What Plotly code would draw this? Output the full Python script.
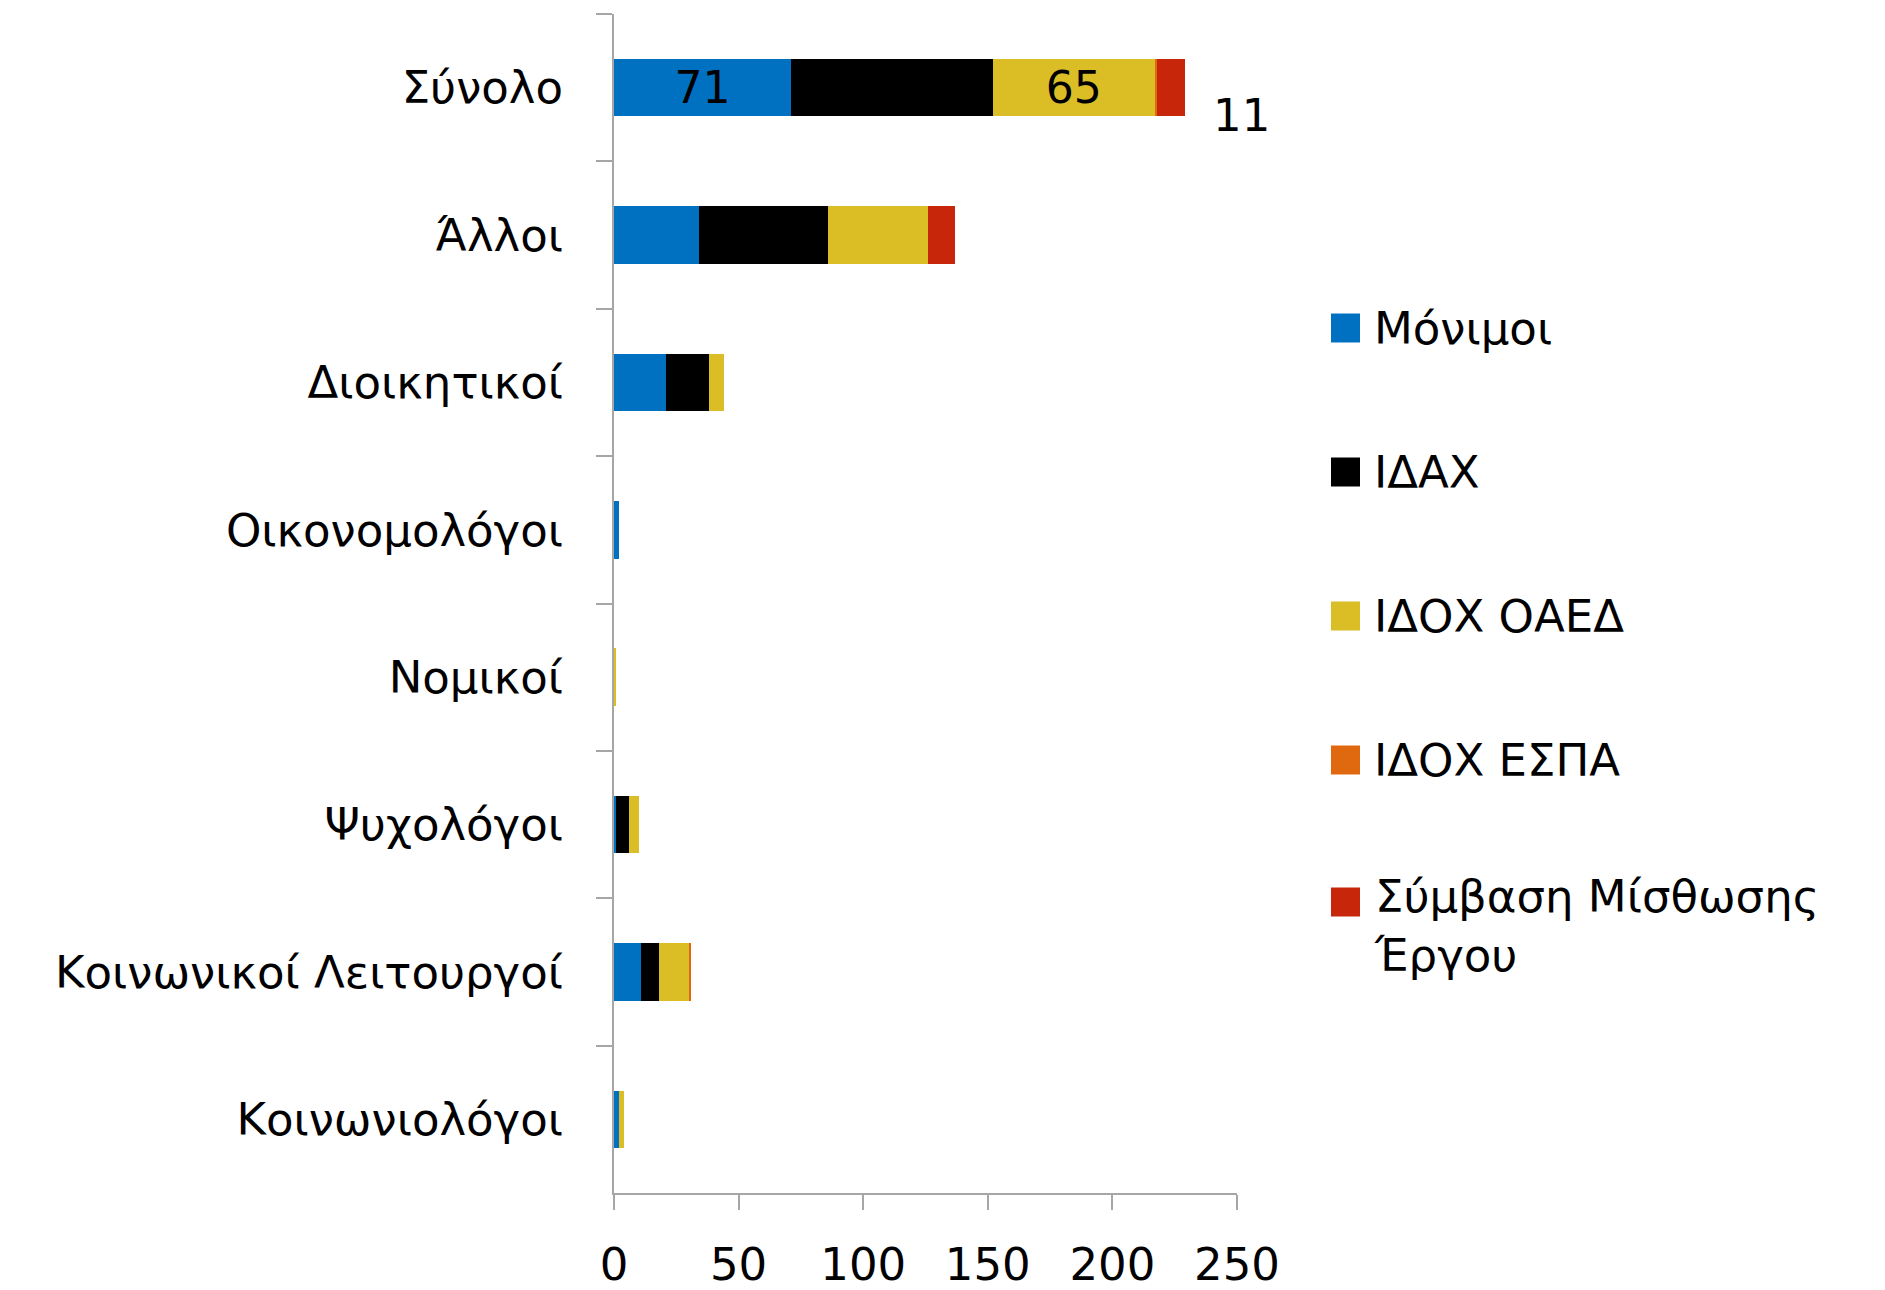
import plotly.graph_objects as go

# Staff categories, listed top to bottom
categories = ["Σύνολο", "Άλλοι", "Διοικητικοί", "Οικονομολόγοι", "Νομικοί",
              "Ψυχολόγοι", "Κοινωνικοί Λειτουργοί", "Κοινωνιολόγοι"]

series_names = ["Μόνιμοι", "ΙΔΑΧ", "ΙΔΟΧ ΟΑΕΔ", "ΙΔΟΧ ΕΣΠΑ", "Σύμβαση Μίσθωσης Έργου"]
monimoi = [71, 34, 21, 2, 0, 1, 11, 2]
idax = [81, 52, 17, 0, 0, 5, 7, 0]
idox_oaed = [65, 40, 6, 0, 1, 4, 12, 2]
idox_espa = [1, 0, 0, 0, 0, 0, 1, 0]
symvasi = [11, 11, 0, 0, 0, 0, 0, 0]

series_values = [monimoi, idax, idox_oaed, idox_espa, symvasi]
colors = ["#0070C0", "#000000", "#DBBD26", "#E0690F", "#C8260A"]

x_ticks = [0, 50, 100, 150, 200, 250]

FONT = "DejaVu Sans"
FS = 45

W, H = 1885, 1290
PL, PR, PT, PB = 614, 1237, 14, 1193  # plot area in pixels


def px_x(x):
    return (x - PL) / (PR - PL)


def px_y(y):
    return (PB - y) / (PB - PT)


fig = go.Figure()
for i, (name, vals, col) in enumerate(zip(series_names, series_values, colors)):
    # value labels only on the total row, for blue and yellow segments
    if i in (0, 2):
        txt = [str(vals[0])] + [""] * (len(vals) - 1)
    else:
        txt = None
    fig.add_trace(go.Bar(
        y=categories, x=vals, name=name, orientation="h",
        marker=dict(color=col, line=dict(width=0)),
        text=txt, textposition="inside", insidetextanchor="middle",
        textfont=dict(family=FONT, size=FS + 3, color="#000000"),
        showlegend=False, cliponaxis=False,
    ))

# label of the contract segment on the total row, set just outside the bar end
total_row = sum(v[0] for v in series_values)
annotations = [dict(
    x=total_row, y=categories[0], xref="x", yref="y",
    text=str(symvasi[0]), showarrow=False, xanchor="left", yanchor="middle",
    xshift=26, yshift=-28, font=dict(family=FONT, size=FS, color="#000000"),
)]

# legend drawn as coloured squares with text on the right
shapes = []
leg_y = [328, 472, 616, 760, 902]
sq = 29
for name, col, yc in zip(series_names, colors, leg_y):
    shapes.append(dict(
        type="rect", xref="paper", yref="paper",
        x0=px_x(1331), x1=px_x(1331 + sq), y0=px_y(yc + sq / 2), y1=px_y(yc - sq / 2),
        fillcolor=col, line=dict(width=0),
    ))
    label = name
    yanchor = "middle"
    ypos = px_y(yc)
    if name == "Σύμβαση Μίσθωσης Έργου":
        label = "Σύμβαση Μίσθωσης<br>Έργου"
        yanchor = "top"
        ypos = px_y(yc - 34)
    annotations.append(dict(
        x=px_x(1372), y=ypos, xref="paper", yref="paper", text=label,
        showarrow=False, xanchor="left", yanchor=yanchor, align="left",
        font=dict(family=FONT, size=FS, color="#000000"),
    ))

fig.update_layout(
    barmode="stack", bargap=0.61,
    width=W, height=H,
    margin=dict(l=PL, r=W - PR, t=PT, b=H - PB, pad=0, autoexpand=False),
    paper_bgcolor="#FFFFFF", plot_bgcolor="#FFFFFF",
    font=dict(family=FONT, size=FS, color="#000000"),
    annotations=annotations, shapes=shapes,
    xaxis=dict(
        range=[0, 250], tickvals=x_ticks, ticktext=[str(t) for t in x_ticks],
        showgrid=False, zeroline=False, showline=True, linecolor="#A6A6A6", linewidth=2,
        ticks="outside", ticklen=15, tickwidth=2, tickcolor="#A6A6A6",
        tickfont=dict(family=FONT, size=FS, color="#000000"), ticklabelstandoff=16,
        automargin=False,
    ),
    yaxis=dict(
        categoryorder="array", categoryarray=categories, autorange="reversed",
        showgrid=False, zeroline=False, showline=True, linecolor="#A6A6A6", linewidth=2,
        ticks="outside", ticklen=16, tickwidth=2, tickcolor="#A6A6A6", tickson="boundaries",
        tickfont=dict(family=FONT, size=FS, color="#000000"), ticklabelstandoff=40,
        automargin=False,
    ),
    uniformtext=dict(minsize=10, mode="show"),
)

fig.write_html("out.html")
